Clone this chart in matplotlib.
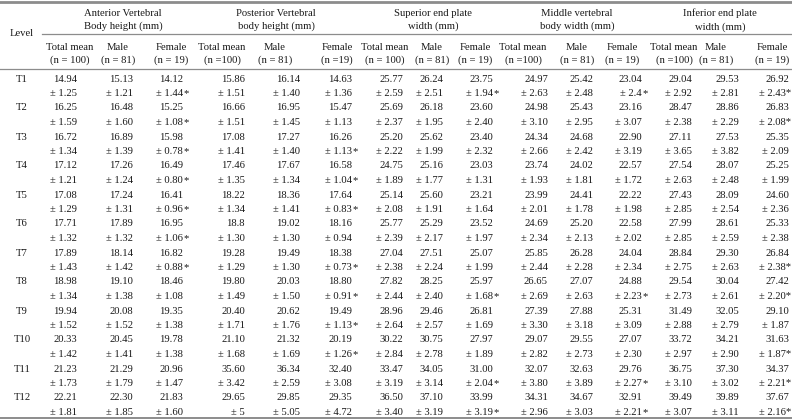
#Thoracic vertebra dimensions table (mean +- sd), drawn as text with matplotlib

import matplotlib.pyplot as plt

plt.rcParams['font.family'] = ['Liberation Serif', 'DejaVu Serif']

levels = ["T1", "T2", "T3", "T4", "T5", "T6", "T7", "T8", "T9", "T10", "T11", "T12"]

groups = ["Anterior Vertebral\nBody height (mm)",
          "Posterior Vertebral\nbody height (mm)",
          "Superior end plate\nwidth (mm)",
          "Middle vertebral\nbody width (mm)",
          "Inferior end plate\nwidth (mm)"]

sub_labels = [
    ["Total mean\n(n = 100)", "Male\n(n = 81)", "Female\n(n = 19)"],
    ["Total mean\n(n =100)", "Male\n(n = 81)", "Female\n(n =19)"],
    ["Total mean\n(n = 100)", "Male\n(n = 81)", "Female\n(n = 19)"],
    ["Total mean\n(n =100)", "Male\n(n = 81)", "Female\n(n = 19)"],
    ["Total mean\n(n =100)", "Male\n(n = 81)", "Female\n(n = 19)"],
]

# each row: total mean, sd, male mean, sd, female mean, sd   (* = significant)
anterior = [
    "14.94 1.25 15.13 1.21 14.12 1.44*",
    "16.25 1.59 16.48 1.60 15.25 1.08*",
    "16.72 1.34 16.89 1.39 15.98 0.78*",
    "17.12 1.21 17.26 1.24 16.49 0.80*",
    "17.08 1.29 17.24 1.31 16.41 0.96*",
    "17.71 1.32 17.89 1.32 16.95 1.06*",
    "17.89 1.43 18.14 1.42 16.82 0.88*",
    "18.98 1.34 19.10 1.38 18.46 1.08",
    "19.94 1.52 20.08 1.52 19.35 1.38",
    "20.33 1.42 20.45 1.41 19.78 1.38",
    "21.23 1.73 21.29 1.79 20.96 1.47",
    "22.21 1.81 22.30 1.85 21.83 1.60",
]
posterior = [
    "15.86 1.51 16.14 1.40 14.63 1.36",
    "16.66 1.51 16.95 1.45 15.47 1.13",
    "17.08 1.41 17.27 1.40 16.26 1.13*",
    "17.46 1.35 17.67 1.34 16.58 1.04*",
    "18.22 1.34 18.36 1.41 17.64 0.83*",
    "18.8 1.30 19.02 1.30 18.16 0.94",
    "19.28 1.29 19.49 1.30 18.38 0.73*",
    "19.80 1.49 20.03 1.50 18.80 0.91*",
    "20.40 1.71 20.62 1.76 19.49 1.13*",
    "21.10 1.68 21.32 1.69 20.19 1.26*",
    "35.60 3.42 36.34 2.59 32.40 3.08",
    "29.65 5 29.85 5.05 29.35 4.72",
]
superior = [
    "25.77 2.59 26.24 2.51 23.75 1.94*",
    "25.69 2.37 26.18 1.95 23.60 2.40",
    "25.20 2.22 25.62 1.99 23.40 2.32",
    "24.75 1.89 25.16 1.77 23.03 1.31",
    "25.14 2.08 25.60 1.91 23.21 1.64",
    "25.77 2.39 25.29 2.17 23.52 1.97",
    "27.04 2.38 27.51 2.24 25.07 1.99",
    "27.82 2.44 28.25 2.40 25.97 1.68*",
    "28.96 2.64 29.46 2.57 26.81 1.69",
    "30.22 2.84 30.75 2.78 27.97 1.89",
    "33.47 3.19 34.05 3.14 31.00 2.04*",
    "36.50 3.40 37.10 3.19 33.99 3.19*",
]
middle = [
    "24.97 2.63 25.42 2.48 23.04 2.4*",
    "24.98 3.10 25.43 2.95 23.16 3.07",
    "24.34 2.66 24.68 2.42 22.90 3.19",
    "23.74 1.93 24.02 1.81 22.57 1.72",
    "23.99 2.01 24.41 1.78 22.22 1.98",
    "24.69 2.34 25.20 2.13 22.58 2.02",
    "25.85 2.44 26.28 2.28 24.04 2.34",
    "26.65 2.69 27.07 2.63 24.88 2.23*",
    "27.39 3.30 27.88 3.18 25.31 3.09",
    "29.07 2.82 29.55 2.73 27.07 2.30",
    "32.07 3.80 32.63 3.89 29.76 2.27*",
    "34.31 2.96 34.67 3.03 32.91 2.21*",
]
inferior = [
    "29.04 2.92 29.53 2.81 26.92 2.43*",
    "28.47 2.38 28.86 2.29 26.83 2.08*",
    "27.11 3.65 27.53 3.82 25.35 2.09",
    "27.54 2.63 28.07 2.48 25.25 1.99",
    "27.43 2.85 28.09 2.54 24.60 2.36",
    "27.99 2.85 28.61 2.59 25.33 2.38",
    "28.84 2.75 29.30 2.63 26.84 2.38*",
    "29.54 2.73 30.04 2.61 27.42 2.20*",
    "31.49 2.88 32.05 2.79 29.10 1.87",
    "33.72 2.97 34.21 2.90 31.63 1.87*",
    "36.75 3.10 37.30 3.02 34.37 2.21*",
    "39.49 3.07 39.89 3.11 37.67 2.16*",
]
tables = [anterior, posterior, superior, middle, inferior]

# layout (pixel coordinates, y down)
col_right = [77, 133, 183, 245, 300, 352, 403, 443, 493, 548, 593, 642, 692, 739, 789]
head_center = [70, 118, 171, 222, 275, 337, 385, 432, 475, 523, 577, 622, 674, 716, 772]
group_center = [123, 276, 433, 577, 720]
row_top = 79
row_step = 29
sd_offset = 14.5
fs = 7.7
txt = "#1a1a1a"
line_col = "#8c8c8c"

fig = plt.figure(figsize=(7.92, 4.2), dpi=100)
ax = fig.add_axes([0, 0, 1, 1])
ax.set_xlim(0, 792)
ax.set_ylim(420, 0)
ax.axis("off")

# rules
ax.plot([0, 792], [1.5, 1.5], color=line_col, lw=2.0)
ax.plot([42, 792], [33.5, 33.5], color=line_col, lw=0.9)
ax.plot([0, 792], [69, 69], color=line_col, lw=0.9)
ax.plot([0, 792], [418, 418], color=line_col, lw=1.4)

# header
ax.text(22, 34, "Level", ha="center", va="center", fontsize=fs, color=txt)
for g, name in enumerate(groups):
    ax.text(group_center[g], 20, name, ha="center", va="center", fontsize=fs,
            color=txt, linespacing=1.55)
    for k in range(3):
        ax.text(head_center[3 * g + k], 54, sub_labels[g][k], ha="center", va="center",
                fontsize=fs, color=txt, linespacing=1.55)

# body
for i, lev in enumerate(levels):
    y = row_top + i * row_step
    ax.text(22, y, lev, ha="center", va="center", fontsize=fs, color=txt)
    for g, tab in enumerate(tables):
        vals = tab[i].split()
        for k in range(3):
            xr = col_right[3 * g + k]
            mean, sd = vals[2 * k], vals[2 * k + 1]
            ax.text(xr, y, mean, ha="right", va="center", fontsize=fs, color=txt)
            star = sd.endswith("*")
            sd = sd.rstrip("*")
            if star and xr > 780:
                # last column: no room to hang the asterisk past the edge
                ax.text(791, y + sd_offset, "\u00b1 " + sd + "*", ha="right",
                        va="center", fontsize=fs, color=txt)
                continue
            ax.text(xr, y + sd_offset, "\u00b1 " + sd, ha="right", va="center",
                    fontsize=fs, color=txt)
            if star:
                ax.text(xr, y + sd_offset, "*", ha="left", va="center",
                        fontsize=fs, color=txt)

fig.savefig("out.png", dpi=100)
